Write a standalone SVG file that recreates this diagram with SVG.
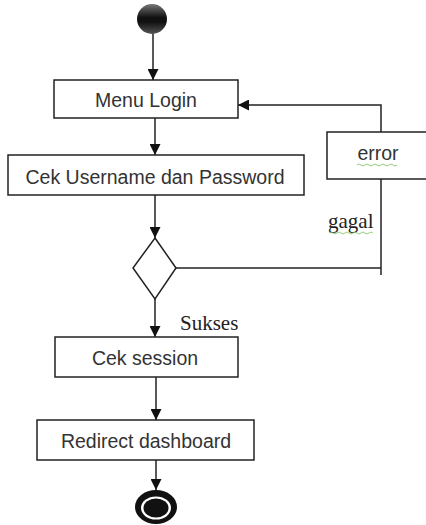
<svg xmlns="http://www.w3.org/2000/svg" width="426" height="525" viewBox="0 0 426 525">
<defs>
<style>
.box{fill:#fff;stroke:#222;stroke-width:1.5}
.lbl{font-family:"Liberation Sans",Arial,sans-serif;font-size:19.5px;fill:#333;text-anchor:middle}
.ser{font-family:"Liberation Serif","Times New Roman",serif;font-size:21px;fill:#222}
.ln{fill:none;stroke:#222;stroke-width:1.5}
.sq{fill:none;stroke:#7cbf5a;stroke-width:0.8}
</style>
<marker id="ahb" viewBox="0 0 10 10" refX="10" refY="5" markerWidth="11" markerHeight="11" markerUnits="userSpaceOnUse" orient="auto">
<path d="M0,0 L10,5 L0,10 z" fill="#111"/>
</marker>
<linearGradient id="sg" x1="0" y1="0" x2="0" y2="1">
<stop offset="0" stop-color="#777"/>
<stop offset="0.45" stop-color="#111"/>
<stop offset="0.6" stop-color="#111"/>
<stop offset="1" stop-color="#555"/>
</linearGradient>
</defs>
<g id="connectors">
<line class="ln" x1="153" y1="33" x2="153" y2="80" marker-end="url(#ahb)"/>
<line class="ln" x1="155" y1="118" x2="155" y2="155" marker-end="url(#ahb)"/>
<line class="ln" x1="155" y1="195" x2="155" y2="238" marker-end="url(#ahb)"/>
<line class="ln" x1="155" y1="299" x2="155" y2="337" marker-end="url(#ahb)"/>
<line class="ln" x1="156" y1="377" x2="156" y2="420" marker-end="url(#ahb)"/>
<line class="ln" x1="156" y1="460" x2="156" y2="490" marker-end="url(#ahb)"/>
<polyline class="ln" points="176,268 381,268"/>
<polyline class="ln" points="381,275 381,179"/>
<polyline class="ln" points="381,132 381,105 238,105" marker-end="url(#ahb)"/>
<text class="ser" x="328" y="228">gagal</text>
<path class="sq" d="M329,233 q2,-2 4,0 t4,0 t4,0 t4,0 t4,0 t4,0 t4,0 t4,0 t4,0 t4,0 t4,0"/>
<text class="ser" x="180" y="330">Sukses</text>
</g>
<g id="start">
<circle cx="152" cy="19" r="15" fill="url(#sg)"/>
</g>
<g id="menu-login">
<rect class="box" x="54" y="80" width="184" height="38"/>
<text class="lbl" x="146" y="107">Menu Login</text>
</g>
<g id="cek-username">
<rect class="box" x="8" y="155" width="296" height="40"/>
<text class="lbl" x="155" y="184">Cek Username dan Password</text>
</g>
<g id="error">
<rect class="box" x="327" y="132" width="110" height="47"/>
<text class="lbl" x="378" y="160">error</text>
<path class="sq" d="M357,165 q2,-2 4,0 t4,0 t4,0 t4,0 t4,0 t4,0 t4,0 t4,0 t4,0 t4,0"/>
</g>
<g id="decision">
<polygon class="box" points="155,238 176,268 155,299 133,268"/>
</g>
<g id="cek-session">
<rect class="box" x="55" y="337" width="183" height="40"/>
<text class="lbl" x="145" y="365">Cek session</text>
</g>
<g id="redirect">
<rect class="box" x="37" y="420" width="217" height="40"/>
<text class="lbl" x="146" y="448">Redirect dashboard</text>
</g>
<g id="end">
<ellipse cx="156" cy="507" rx="21" ry="17" fill="#111"/>
<ellipse cx="156" cy="508" rx="15" ry="11.5" fill="#fff"/>
<ellipse cx="156" cy="508" rx="12.5" ry="9.5" fill="#111"/>
</g>
</svg>
